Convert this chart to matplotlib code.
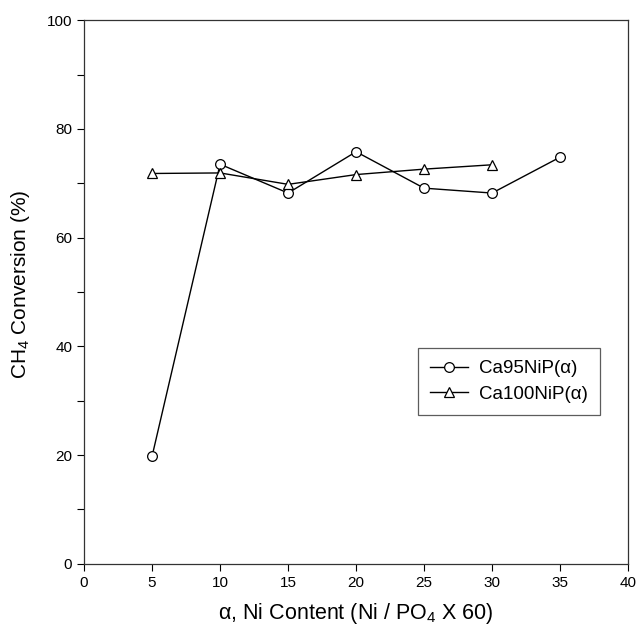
import matplotlib
matplotlib.use("Agg")
import matplotlib.pyplot as plt
from matplotlib.ticker import MultipleLocator

plt.rcParams['font.family'] = ['Liberation Sans', 'DejaVu Sans']
plt.rcParams['mathtext.fontset'] = 'custom'
plt.rcParams['mathtext.rm'] = 'Liberation Sans'

# Ni content (alpha) and CH4 conversion (%)
ca95_x = [5, 10, 15, 20, 25, 30, 35]
ca95_y = [19.8, 73.5, 68.2, 75.8, 69.1, 68.2, 74.8]
ca100_x = [5, 10, 15, 20, 25, 30]
ca100_y = [71.8, 71.9, 69.8, 71.6, 72.6, 73.4]

x_ticks = [0, 5, 10, 15, 20, 25, 30, 35, 40]
y_ticks = [0, 20, 40, 60, 80, 100]

fig = plt.figure(figsize=(6.37, 6.30), dpi=100)
ax = fig.add_axes([0.132, 0.105, 0.854, 0.863])

ax.plot(ca95_x, ca95_y, color='black', lw=1.0, marker='o', ms=7,
        mfc='white', mec='black', mew=0.9, label='Ca95NiP(α)')
ax.plot(ca100_x, ca100_y, color='black', lw=1.0, marker='^', ms=7.5,
        mfc='white', mec='black', mew=0.9, label='Ca100NiP(α)')

ax.set_xlim(0, 40)
ax.set_ylim(0, 100)
ax.set_xticks(x_ticks)
ax.set_yticks(y_ticks)
ax.yaxis.set_minor_locator(MultipleLocator(10))
ax.tick_params(which='both', direction='out', labelsize=11, width=0.8)
ax.tick_params(which='major', length=5)
ax.tick_params(which='minor', length=5)
for s in ax.spines.values():
    s.set_linewidth(0.9)
    s.set_color('#333333')

ax.set_xlabel('α, Ni Content (Ni / PO$_\\mathregular{4}$ X 60)', fontsize=15.5, labelpad=8)
ax.set_ylabel('CH$_\\mathregular{4}$ Conversion (%)', fontsize=15, labelpad=11)
ax.yaxis.label.set_y(0.515)

leg = ax.legend(loc='upper left', bbox_to_anchor=(0.614, 0.397),
                borderaxespad=0.0,
                fontsize=13.5, frameon=True, fancybox=False,
                edgecolor='#333333', handlelength=2.0, borderpad=0.65,
                labelspacing=0.45, handletextpad=0.6)
leg.get_frame().set_linewidth(0.9)

fig.savefig('out.png', dpi=100)
